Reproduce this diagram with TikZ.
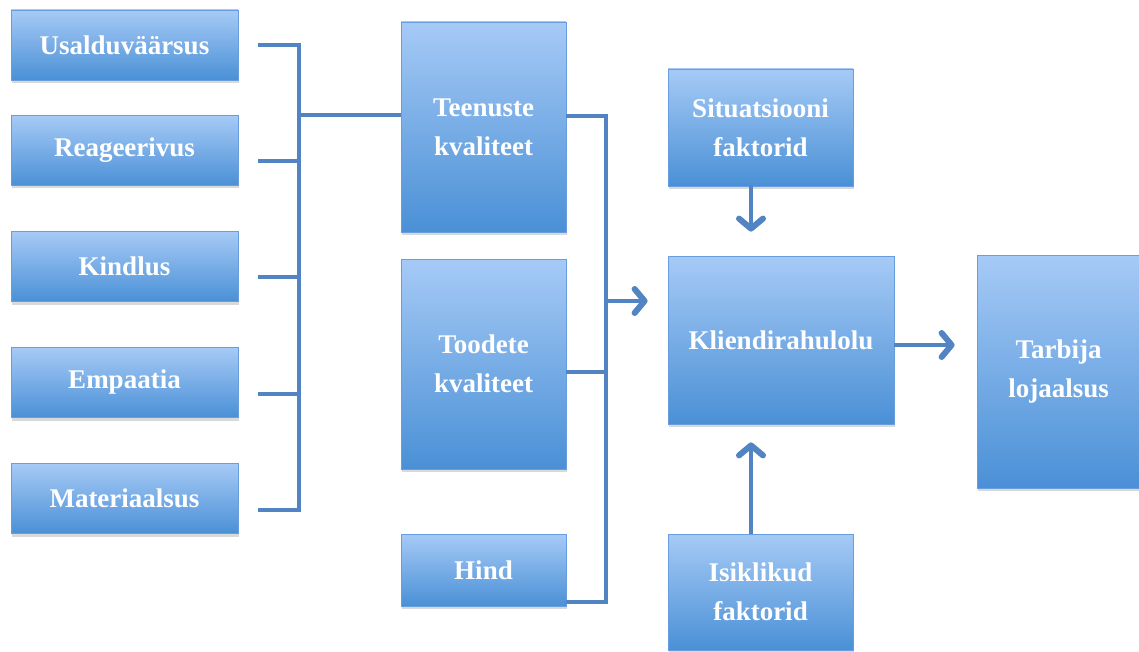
\documentclass[tikz,border=0pt]{standalone}
\usepackage{fontspec}
\setmainfont{Liberation Serif}
\usetikzlibrary{arrows.meta,shadows}
\definecolor{boxtop}{RGB}{166,202,246}
\definecolor{boxbot}{RGB}{74,144,214}
\definecolor{boxedge}{RGB}{104,158,222}
\definecolor{linkc}{RGB}{82,132,196}
\tikzset{
 box/.style={rectangle, draw=boxedge, line width=0.8pt, top color=boxtop, bottom color=boxbot,
   text=white, font=\bfseries\fontsize{27}{39}\selectfont, align=center, inner sep=0pt,
   drop shadow={shadow xshift=0.5pt, shadow yshift=-3pt, opacity=0.3}},
 link/.style={draw=linkc, line width=4pt},
 arr/.style={link, -{Straight Barb[length=10pt,width=24pt,line width=6pt,round]}},
}
\begin{document}
\begin{tikzpicture}[x=1pt,y=-1pt]
\useasboundingbox (0,0) rectangle (1139,652);
% left column
\node[box, minimum width=227pt, minimum height=70pt] (u) at (124.5,45) {Usalduväärsus};
\node[box, minimum width=227pt, minimum height=70pt] (r) at (124.5,150.5) {Reageerivus};
\node[box, minimum width=227pt, minimum height=70pt] (ki) at (124.5,266.5) {Kindlus};
\node[box, minimum width=227pt, minimum height=70pt] (e) at (124.5,382.5) {Empaatia};
\node[box, minimum width=227pt, minimum height=70pt] (m) at (124.5,498.5) {Materiaalsus};
% middle column
\node[box, minimum width=165pt, minimum height=210pt] (t) at (483.5,127) {Teenuste\\kvaliteet};
\node[box, minimum width=165pt, minimum height=210pt] (to) at (483.5,364) {Toodete\\kvaliteet};
\node[box, minimum width=165pt, minimum height=72pt] (h) at (483.5,570) {Hind};
% right part
\node[box, minimum width=185pt, minimum height=117pt] (s) at (760.5,127.5) {Situatsiooni\\faktorid};
\node[box, minimum width=226pt, minimum height=168pt] (k) at (781,340) {Kliendirahulolu};
\node[box, minimum width=185pt, minimum height=116pt] (i) at (760.5,592) {Isiklikud\\faktorid};
\node[box, minimum width=163pt, minimum height=233pt] (tb) at (1058.5,371.5) {Tarbija\\lojaalsus};
% left bracket
\coordinate (s1) at (258,45);
\coordinate (s2) at (258,161);
\coordinate (s3) at (258,277);
\coordinate (s4) at (258,394);
\coordinate (s5) at (258,510);
\coordinate (j1) at (299,45);
\coordinate (j5) at (299,510);
\coordinate (tin) at (299,115);
\draw[link] (s1) -- (j1) -- (j5) -- (s5);
\draw[link] (s2) -- (s2 -| j1);
\draw[link] (s3) -- (s3 -| j1);
\draw[link] (s4) -- (s4 -| j1);
\draw[link] (tin) -- (tin -| t.west);
% right bracket
\coordinate (r1) at (606,116);
\coordinate (r2) at (606,602);
\coordinate (rt) at (606,372);
\coordinate (ra) at (606,301);
\draw[link] (t.east |- r1) -- (r1) -- (r2) -- (r2 -| h.east);
\draw[link] (rt -| to.east) -- (rt);
\draw[arr, shorten >=20pt] (ra) -- (ra -| k.west);
% vertical arrows
\coordinate (sa) at (751,0);
\draw[arr, shorten >=24pt] (s.south -| sa) -- (k.north -| sa);
\draw[arr, shorten >=18pt] (i.north -| sa) -- (k.south -| sa);
% to loyalty
\coordinate (ka) at (0,345);
\draw[arr, shorten >=22pt] (k.east |- ka) -- (tb.west |- ka);
\end{tikzpicture}
\end{document}
